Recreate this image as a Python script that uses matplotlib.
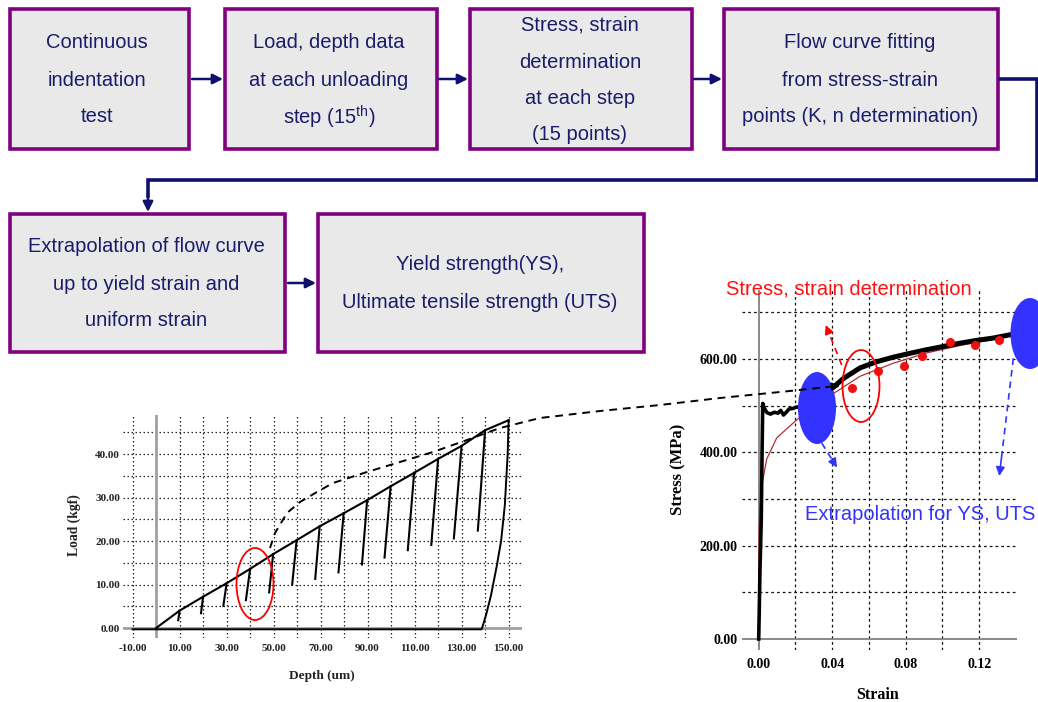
import matplotlib
matplotlib.use("Agg")
import matplotlib.pyplot as plt
from matplotlib.patches import Rectangle, Ellipse

plt.rcParams['font.family'] = ['Liberation Sans', 'DejaVu Sans']
plt.rcParams['mathtext.fontset'] = 'custom'
plt.rcParams['mathtext.rm'] = 'Liberation Sans'

### Data ###
# Left chart: load-depth curve of the continuous indentation test
depth_peak = [0.0, 10.0, 20.0, 30.0, 40.0, 49.8, 59.8, 69.6, 79.8, 89.8, 99.8, 109.8, 120.0, 130.0, 140.0, 150.0]
load_peak = [0.0, 4.0, 7.2, 10.3, 13.6, 17.0, 20.2, 23.4, 26.4, 29.4, 32.6, 35.7, 38.9, 41.9, 45.5, 47.8]
depth_unl = [9.4, 19.1, 28.6, 38.2, 48.1, 57.9, 67.7, 77.6, 87.6, 97.2, 107.1, 117.1, 126.7, 136.9]
load_unl = [1.8, 3.4, 5.1, 6.4, 8.2, 10.0, 11.3, 12.8, 14.6, 16.2, 17.9, 19.1, 20.6, 22.4]
depth_final = [150.0, 149.6, 148.4, 146.8, 144.9, 142.5, 140.6, 139.3, 138.5, -10.0]
load_final = [47.8, 40.0, 28.3, 20.0, 14.1, 7.5, 3.4, 1.0, -0.3, -0.3]
depth_ticks = [-10, 10, 30, 50, 70, 90, 110, 130, 150]
load_ticks = [0, 10, 20, 30, 40]

# Right chart: stress-strain
strain_el = [0.0, 0.0003, 0.0007, 0.0014, 0.0018, 0.0022, 0.0030, 0.0045, 0.0065, 0.0085,
             0.0105, 0.0120, 0.0135, 0.0150, 0.0165, 0.0185, 0.0205, 0.0240]
stress_el = [0, 60, 150, 256, 390, 505, 495, 485, 482, 486, 484, 490, 480, 486, 493, 494, 497, 497]
strain_pl = [0.0410, 0.046, 0.0551, 0.064, 0.0732, 0.0820, 0.0913, 0.1005, 0.1095, 0.1185, 0.1276, 0.1367, 0.141]
stress_pl = [541, 558, 581, 594, 604, 612, 620, 627, 634, 640, 645, 652, 654]
strain_fit = [0.0, 0.0001, 0.0003, 0.0007, 0.002, 0.0043, 0.0098, 0.0188, 0.030, 0.0426,
              0.0551, 0.0732, 0.0913, 0.1095, 0.1276, 0.141]
stress_fit = [0, 190, 240, 280, 335, 385, 431, 463, 500, 531, 563, 591, 613, 629, 642, 652]
strain_pts = [0.0506, 0.0651, 0.0793, 0.0891, 0.1041, 0.1179, 0.1310]
stress_pts = [538, 575, 586, 607, 636, 631, 641]
strain_ticks = [0.0, 0.04, 0.08, 0.12]
stress_ticks = [0, 200, 400, 600]

# Flow chart boxes (label lines)
box_lines = [
    ["Continuous", "indentation", "test"],
    ["Load, depth data", "at each unloading", r"step (15$^{\mathrm{th}}$)"],
    ["Stress, strain", "determination", "at each step", "(15 points)"],
    ["Flow curve fitting", "from stress-strain", "points (K, n determination)"],
    ["Extrapolation of flow curve", "up to yield strain and", "uniform strain"],
    ["Yield strength(YS),", "Ultimate tensile strength (UTS)"],
]

# Dashed link from the left chart to the right one (figure pixels)
link_x = [270, 275, 287, 300, 317, 333, 367, 400, 433, 467, 500, 540, 600, 660, 720, 780, 828]
link_y = [548, 533, 513, 502, 492, 483, 472, 462, 452, 440, 428, 418, 411, 405, 398, 392, 387]

NAVY = '#1b1b6b'
PURPLE = '#800080'
BLUE = '#3333ff'
W, H = 1038, 702
DOT = (0, (1.2, 2.0))
DASH = (0, (2.2, 2.4))
SERIF = 'Liberation Serif'

fig = plt.figure(figsize=(W / 100, H / 100), dpi=100)


def px_axes(x0, y0, x1, y1):
    return fig.add_axes([x0 / W, 1 - y1 / H, (x1 - x0) / W, (y1 - y0) / H])


### Left chart ###
axl = px_axes(123, 415, 522, 638)
axl.set_xlim(-14.1, 155.7)
axl.set_ylim(-2.3, 49)
for x in range(-10, 151, 10):
    if x != 0:
        axl.axvline(x, color='#222222', lw=0.9, ls=DOT)
for y in range(5, 46, 5):
    axl.axhline(y, color='#222222', lw=0.9, ls=DOT)
axl.axvline(0, color='#a0a0a0', lw=2.0)
axl.axhline(0, color='#a0a0a0', lw=2.0)
axl.plot(depth_peak, load_peak, color='black', lw=1.5)
for i in range(len(depth_unl)):
    axl.plot([depth_peak[i + 1], depth_unl[i]], [load_peak[i + 1], load_unl[i]], color='black', lw=1.5)
axl.plot(depth_final, load_final, color='black', lw=1.4)
axl.set_xticks(depth_ticks, ['%.2f' % v for v in depth_ticks])
axl.set_yticks(load_ticks, ['%.2f' % v for v in load_ticks])
axl.tick_params(length=0, labelsize=8)
axl.tick_params(axis='x', pad=4.5)
axl.tick_params(axis='y', pad=2)
for lab in axl.get_xticklabels() + axl.get_yticklabels():
    lab.set_fontfamily(SERIF)
    lab.set_fontweight('bold')
    lab.set_color('#222222')
for s in axl.spines.values():
    s.set_visible(False)

### Right chart ###
axr = px_axes(741.7, 290, 1016.7, 650)
axr.set_xlim(-0.00925, 0.1404)
axr.set_ylim(-23.6, 748)
for x in [0.02, 0.04, 0.06, 0.08, 0.10, 0.12]:
    axr.axvline(x, color='#111111', lw=0.9, ls=DASH)
for y in range(100, 701, 100):
    axr.axhline(y, xmax=0.993, color='#111111', lw=0.9, ls=DASH)
axr.axvline(0, color='#808080', lw=1.3)
axr.axhline(0, color='#808080', lw=1.3)
axr.plot(strain_fit, stress_fit, color='#b0303a', lw=0.9)
axr.plot(strain_el, stress_el, color='black', lw=2.6)
axr.plot(strain_pl, stress_pl, color='black', lw=3.6)
axr.plot(strain_pts, stress_pts, 'o', color='#ee1111', ms=6.5, mec='none')
axr.set_xticks(strain_ticks, ['%.2f' % v for v in strain_ticks])
axr.set_yticks(stress_ticks, ['%.2f' % v for v in stress_ticks])
axr.tick_params(length=0, labelsize=10)
axr.tick_params(axis='x', pad=5.5)
axr.tick_params(axis='y', pad=3)
for lab in axr.get_xticklabels() + axr.get_yticklabels():
    lab.set_fontfamily(SERIF)
    lab.set_fontweight('bold')
for s in axr.spines.values():
    s.set_visible(False)

### Overlay: flow chart, labels and annotations in pixel coordinates ###
ov = fig.add_axes([0, 0, 1, 1], zorder=10)
ov.set_xlim(0, W)
ov.set_ylim(H, 0)
ov.axis('off')

boxes = [(10, 9, 189, 149), (224.5, 9, 437, 149), (470, 9, 692, 149),
         (724, 9, 998, 149), (10, 213.5, 285, 351.5), (317.5, 213.5, 644, 351.5)]
text_x = [97, 329, 580, 860, 146, 480]
text_y = [[42, 80, 117], [42, 80, 117], [25, 62, 98, 135], [43, 80, 117],
          [247, 284, 320], [265, 303]]
for (x0, y0, x1, y1), lines, tx, tys in zip(boxes, box_lines, text_x, text_y):
    ov.add_patch(Rectangle((x0, y0), x1 - x0, y1 - y0, facecolor='#e9e9e9',
                           edgecolor=PURPLE, lw=2.6))
    for line, ty in zip(lines, tys):
        ov.text(tx, ty, line, ha='center', va='center', fontsize=14.5, color=NAVY)

arrow_kw = dict(arrowstyle='-|>', color='#10106e', lw=1.8, mutation_scale=15,
                shrinkA=0, shrinkB=0)
for x0, x1, y in [(192, 223, 79), (439, 468, 79), (694, 722, 79), (288, 316, 283)]:
    ov.annotate('', xy=(x1, y), xytext=(x0, y), arrowprops=arrow_kw)

# connector from box 4 to box 5
ov.plot([1000, 1037, 1037, 148, 148], [79, 79, 180, 180, 196], color='#10106e', lw=2.6,
        solid_joinstyle='miter')
ov.annotate('', xy=(148, 212), xytext=(148, 194), arrowprops=arrow_kw)

# axis titles
ov.text(322, 676, 'Depth (um)', ha='center', va='center', fontsize=9.5,
        fontfamily=SERIF, fontweight='bold', color='#222222')
ov.text(74, 525, 'Load (kgf)', ha='center', va='center', fontsize=9.8, rotation=90,
        fontfamily=SERIF, fontweight='bold', color='#222222')
ov.text(878, 695, 'Strain', ha='center', va='center', fontsize=11.5,
        fontfamily=SERIF, fontweight='bold')
ov.text(678, 469, 'Stress (MPa)', ha='center', va='center', fontsize=12, rotation=90,
        fontfamily=SERIF, fontweight='bold')

# dashed link with arrow head
ov.plot(link_x, link_y, color='black', lw=1.4, ls=(0, (4, 3)))
ov.annotate('', xy=(840, 385.7), xytext=(826, 387.2),
            arrowprops=dict(arrowstyle='-|>', color='black', lw=1.2, mutation_scale=12,
                            shrinkA=0, shrinkB=0))

# ellipses
ov.add_patch(Ellipse((255, 584), 37, 72, facecolor='none', edgecolor='red', lw=1.3))
ov.add_patch(Ellipse((861, 386), 37, 72, facecolor='none', edgecolor='red', lw=1.3))
ov.add_patch(Ellipse((817, 408), 38, 72, facecolor=BLUE, edgecolor='none'))
ov.add_patch(Ellipse((1030, 333.5), 39, 71, facecolor=BLUE, edgecolor='none'))


def dashed_arrow(x0, y0, x1, y1, color):
    fx = x0 + (x1 - x0) * 0.8
    fy = y0 + (y1 - y0) * 0.8
    ov.plot([x0, fx], [y0, fy], color=color, lw=1.2, ls=(0, (4, 3)))
    ov.annotate('', xy=(x1, y1), xytext=(fx, fy),
                arrowprops=dict(arrowstyle='-|>', color=color, lw=1.2, mutation_scale=13,
                                shrinkA=0, shrinkB=0))


dashed_arrow(841.7, 365, 825.7, 325, 'red')
dashed_arrow(821.7, 443, 837, 467.5, BLUE)
dashed_arrow(1013.3, 358.3, 999.3, 476, BLUE)

ov.text(726.5, 289, 'Stress, strain determination', ha='left', va='center',
        fontsize=14.5, color='#ff1111')
ov.text(805, 514, 'Extrapolation for YS, UTS', ha='left', va='center',
        fontsize=14.5, color=BLUE)

fig.savefig('out.png', dpi=100)
